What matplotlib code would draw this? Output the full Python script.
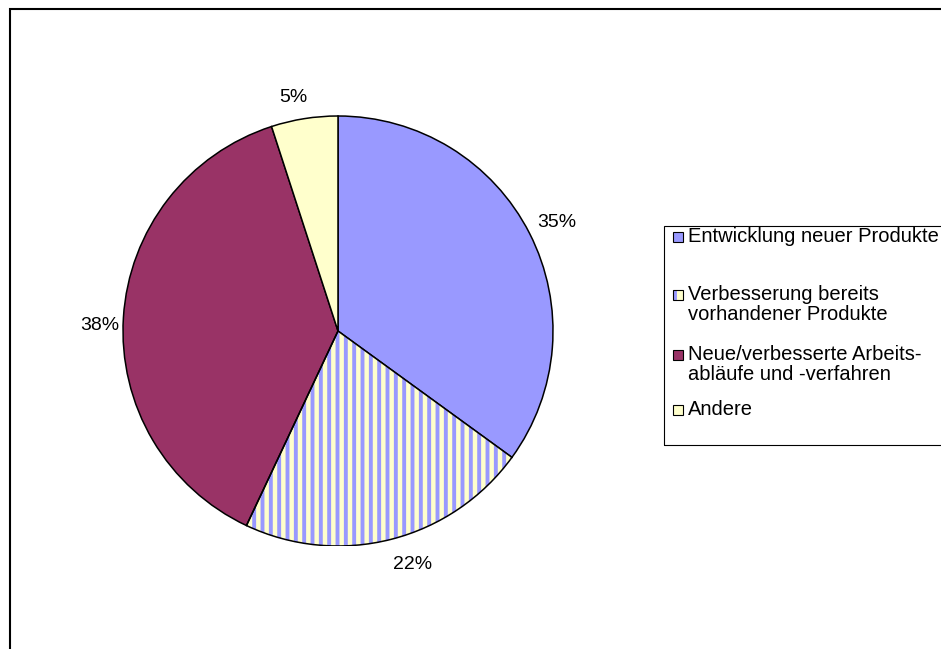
import matplotlib.pyplot as plt
from matplotlib.patches import Rectangle, Wedge

plt.rcParams['font.family'] = ['Liberation Sans', 'DejaVu Sans']
plt.rcParams['hatch.linewidth'] = 2.8

# Anteile (%) und Legendentexte
labels = ['Entwicklung neuer Produkte',
          'Verbesserung bereits\nvorhandener Produkte',
          'Neue/verbesserte Arbeits-\nabläufe und -verfahren',
          'Andere']
values = [35, 22, 38, 5]
colors = ['#9999FF', '#FFFFCC', '#993366', '#FFFFCC']
hatched = [False, True, False, False]
STRIPE = '#9999FF'
# small pixel nudges of the percentage labels (Excel places them by box edge)
nudge_px = [(2, 2), (14, -2), (4, 10), (-7, 6)]

W, H = 941, 649
fig = plt.figure(figsize=(W / 100, H / 100), dpi=100)

# pie axes: centre (338, 331), radius 215 px
cx, cy, r = 338, 331, 215
ax = fig.add_axes([(cx - r) / W, 1 - (cy + r) / H, 2 * r / W, 2 * r / H])
wedges, texts, autotexts = ax.pie(
    values, colors=colors, startangle=90, counterclock=False,
    autopct='%1.0f%%', pctdistance=1.13, labeldistance=None,
    wedgeprops=dict(edgecolor='black', linewidth=1.1),
    textprops=dict(fontsize=14))
ax.set_aspect('equal')
ax.set_xlim(-1, 1)
ax.set_ylim(-1, 1)

for t, (dx, dy) in zip(autotexts, nudge_px):
    x, y = t.get_position()
    t.set_position((x + dx / r, y - dy / r))

for w, h in zip(wedges, hatched):
    if h:
        # blue vertical stripes on yellow, outline drawn on top
        w.set_edgecolor(STRIPE)
        w.set_hatch('||')
        w.set_linewidth(0)
        ax.add_patch(Wedge(w.center, w.r, w.theta1, w.theta2, fill=False,
                           edgecolor='black', linewidth=1.1, zorder=3))

# legend drawn by hand, Excel style
def fx(px):
    return px / W

def fy(py):
    return 1 - py / H

fig.patches.append(Rectangle((fx(664), fy(445)), fx(300), 219 / H,
                             transform=fig.transFigure, fill=False,
                             edgecolor='black', linewidth=0.8))
leg_base = [242, 300, 360, 415]
line_h = 20
sq = 10
for lab, col, h, b in zip(labels, colors, hatched, leg_base):
    box = (fx(673), fy(b))
    if h:
        fig.patches.append(Rectangle(box, sq / W, sq / H, transform=fig.transFigure,
                                     facecolor=col, edgecolor=STRIPE,
                                     hatch='|', linewidth=0))
        fig.patches.append(Rectangle(box, sq / W, sq / H, transform=fig.transFigure,
                                     fill=False, edgecolor='black', linewidth=0.8))
    else:
        fig.patches.append(Rectangle(box, sq / W, sq / H, transform=fig.transFigure,
                                     facecolor=col, edgecolor='black',
                                     linewidth=0.8))
    for i, part in enumerate(lab.split('\n')):
        fig.text(fx(688), fy(b + i * line_h), part, fontsize=14.5,
                 va='baseline', ha='left')

# outer chart frame, cut off on the right and bottom
fig.patches.append(Rectangle((fx(10), fy(700)), fx(1000), 691 / H,
                             transform=fig.transFigure, fill=False,
                             edgecolor='black', linewidth=1.5))

fig.savefig('out.png', dpi=100)
